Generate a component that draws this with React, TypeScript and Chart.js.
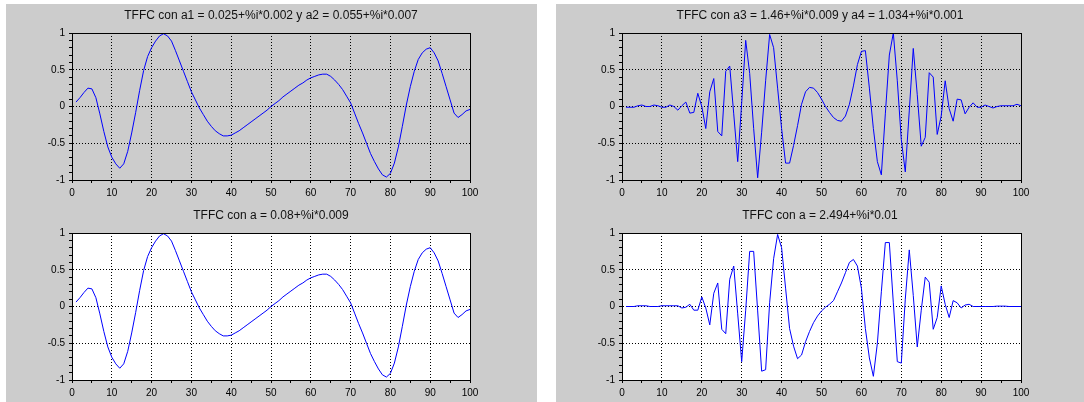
import React, { useEffect, useRef } from 'react';
import { Chart, registerables } from 'chart.js';

Chart.register(...registerables);
Chart.defaults.font.family = '"Liberation Sans", Arial, sans-serif';

// sample index (x axis) 1..100
const samples: number[] = Array.from({ length: 100 }, (_, i) => i + 1);

const titleTopLeft = 'TFFC con a1 = 0.025+%i*0.002 y a2 = 0.055+%i*0.007';
const titleBottomLeft = 'TFFC con a = 0.08+%i*0.009';
const titleTopRight = 'TFFC con a3 = 1.46+%i*0.009 y a4 = 1.034+%i*0.001';
const titleBottomRight = 'TFFC con a = 2.494+%i*0.01';

const xMajorLabels = [0, 10, 20, 30, 40, 50, 60, 70, 80, 90, 100];
const yMajorLabels = [-1, -0.5, 0, 0.5, 1];

const seriesTopLeft: number[] = [
  0.06, 0.12, 0.19, 0.25, 0.24, 0.12, -0.1, -0.34, -0.55, -0.69,
  -0.78, -0.84, -0.78, -0.61, -0.36, -0.08, 0.22, 0.49, 0.68, 0.8,
  0.89, 0.96, 0.99, 0.96, 0.89, 0.76, 0.62, 0.48, 0.34, 0.2,
  0.09, -0.02, -0.11, -0.2, -0.27, -0.33, -0.37, -0.4, -0.4, -0.39,
  -0.36, -0.33, -0.29, -0.25, -0.21, -0.17, -0.13, -0.09, -0.05, 0.0,
  0.04, 0.08, 0.13, 0.17, 0.21, 0.25, 0.29, 0.32, 0.36, 0.39,
  0.41, 0.43, 0.44, 0.44, 0.41, 0.36, 0.3, 0.23, 0.14, 0.05,
  -0.09, -0.23, -0.36, -0.5, -0.64, -0.75, -0.85, -0.93, -0.96, -0.91,
  -0.77, -0.55, -0.27, 0.02, 0.27, 0.48, 0.64, 0.73, 0.78, 0.8,
  0.73, 0.62, 0.45, 0.27, 0.09, -0.09, -0.15, -0.11, -0.06, -0.04,
];

const seriesBottomLeft: number[] = [
  0.06, 0.12, 0.19, 0.25, 0.24, 0.12, -0.1, -0.34, -0.55, -0.69,
  -0.78, -0.84, -0.78, -0.61, -0.36, -0.08, 0.22, 0.49, 0.68, 0.8,
  0.89, 0.96, 0.99, 0.96, 0.89, 0.76, 0.62, 0.48, 0.34, 0.2,
  0.09, -0.02, -0.11, -0.2, -0.27, -0.33, -0.37, -0.4, -0.4, -0.39,
  -0.36, -0.33, -0.29, -0.25, -0.21, -0.17, -0.13, -0.09, -0.05, 0.0,
  0.04, 0.08, 0.13, 0.17, 0.21, 0.25, 0.29, 0.32, 0.36, 0.39,
  0.41, 0.43, 0.44, 0.44, 0.41, 0.36, 0.3, 0.23, 0.14, 0.05,
  -0.09, -0.23, -0.36, -0.5, -0.64, -0.75, -0.85, -0.93, -0.96, -0.91,
  -0.77, -0.55, -0.27, 0.02, 0.27, 0.48, 0.64, 0.73, 0.78, 0.8,
  0.73, 0.62, 0.45, 0.27, 0.09, -0.09, -0.15, -0.11, -0.06, -0.04,
];

const seriesTopRight: number[] = [
  -0.01, -0.01, -0.01, 0.01, 0.02, 0.0, 0.0, 0.02, 0.01, -0.01,
  -0.01, 0.02, 0.0, -0.05, 0.01, 0.06, -0.09, -0.08, 0.18, 0.0,
  -0.3, 0.2, 0.38, -0.34, -0.4, 0.48, 0.55, -0.1, -0.75, 0.05,
  0.9, 0.45, -0.3, -0.97, -0.35, 0.35, 0.98, 0.8, 0.25, -0.3,
  -0.77, -0.77, -0.53, -0.26, 0.03, 0.2, 0.26, 0.25, 0.19, 0.1,
  0.0, -0.08, -0.15, -0.19, -0.2, -0.13, 0.03, 0.28, 0.57, 0.75,
  0.76, 0.25, -0.3, -0.75, -0.93, -0.1, 0.7, 1.0, 0.35, -0.45,
  -0.89, -0.06, 0.79, 0.16, -0.54, -0.42, 0.46, 0.4, -0.38, -0.13,
  0.35, -0.03, -0.2, 0.1, 0.09, -0.1, -0.01, 0.05, -0.01, -0.01,
  0.02, 0.0, -0.02, 0.0, 0.01, 0.01, 0.01, 0.01, 0.03, 0.01,
];

const seriesBottomRight: number[] = [
  0.0, 0.0, 0.0, 0.01, 0.01, 0.01, 0.0, 0.0, 0.0, 0.01,
  0.01, 0.01, 0.01, 0.01, -0.02, -0.01, 0.03, -0.05, -0.05, 0.13,
  -0.02, -0.25, 0.18, 0.32, -0.31, -0.37, 0.37, 0.55, -0.1, -0.75,
  -0.05, 0.75, 0.75, -0.06, -0.88, -0.86, 0.05, 0.65, 0.98, 0.8,
  0.25, -0.3, -0.54, -0.71, -0.66, -0.48, -0.34, -0.22, -0.13, -0.06,
  -0.01, 0.03, 0.08, 0.2, 0.32, 0.46, 0.6, 0.64, 0.55, 0.25,
  -0.3, -0.7, -0.95, -0.5, 0.2, 0.87, 0.87, 0.05, -0.75, -0.77,
  0.1, 0.77, 0.15, -0.55, -0.05, 0.4, 0.33, -0.31, -0.15, 0.28,
  0.03, -0.15, 0.08, 0.05, -0.02, 0.02, 0.03, 0.0, 0.0, 0.0,
  0.0, 0.0, 0.0, 0.005, 0.005, 0.005, 0.0, 0.0, 0.0, 0.0,
];

const PANEL_BG = '#cccccc';

const isXMajor = (v: number) => xMajorLabels.some((m) => Math.abs(m - v) < 1e-6);
const isYMajor = (v: number) => yMajorLabels.some((m) => Math.abs(m - v) < 1e-6);

type PlotProps = {
  values: number[];
  title: string;
  left: number;
  top: number;
  width: number;
  height: number;
  areaBg: string;
  titlePadTop: number;
  xAxisHeight: number;
  yAxisWidth: number;
  rightWidth: number;
};

function Plot(p: PlotProps) {
  const ref = useRef<HTMLCanvasElement>(null);
  useEffect(() => {
    const canvas = ref.current;
    if (!canvas) return;
    const framePlugin = {
      id: 'frame',
      beforeDraw(chart: any) {
        const { ctx, chartArea: a } = chart;
        ctx.save();
        ctx.fillStyle = p.areaBg;
        ctx.fillRect(a.left, a.top, a.right - a.left, a.bottom - a.top);
        ctx.restore();
      },
      afterDraw(chart: any) {
        const { ctx, chartArea: a } = chart;
        const t = Math.round(a.top) + 0.5;
        const r = Math.round(a.right) + 0.5;
        ctx.save();
        ctx.strokeStyle = '#000';
        ctx.lineWidth = 1;
        ctx.beginPath();
        ctx.moveTo(a.left, t);
        ctx.lineTo(r, t);
        ctx.lineTo(r, a.bottom);
        ctx.stroke();
        ctx.restore();
      },
    };
    const chart = new Chart(canvas, {
      type: 'line',
      data: {
        datasets: [
          {
            data: samples.map((x, i) => ({ x, y: p.values[i] })),
            xAxisID: 'x',
            yAxisID: 'y',
            borderColor: '#0000ff',
            borderWidth: 1,
            pointRadius: 0,
            tension: 0,
            fill: false,
          },
        ],
      },
      options: {
        responsive: false,
        animation: false,
        devicePixelRatio: 1,
        layout: { padding: 0 },
        plugins: {
          legend: { display: false },
          tooltip: { enabled: false },
          title: {
            display: true,
            text: p.title,
            color: '#111',
            font: { size: 12, weight: 'normal', lineHeight: 1.25 },
            padding: { top: p.titlePadTop, bottom: 10 },
          },
        },
        scales: {
          x: {
            type: 'linear',
            min: 0,
            max: 100,
            afterFit: (s: any) => {
              s.height = p.xAxisHeight;
            },
            ticks: {
              stepSize: 5,
              autoSkip: false,
              maxRotation: 0,
              minRotation: 0,
              padding: 4,
              color: '#000',
              font: { size: 10 },
              callback: (v: any) => (isXMajor(Number(v)) ? String(Math.round(Number(v))) : ''),
            },
            grid: {
              color: (c: any) => (c.tick && isXMajor(c.tick.value) ? '#000' : 'rgba(0,0,0,0)'),
              tickColor: '#000',
              tickLength: 3,
              lineWidth: 1,
            },
            border: { display: true, color: '#000', width: 1, dash: [1, 2] },
          },
          y: {
            type: 'linear',
            position: 'left',
            min: -1,
            max: 1,
            afterFit: (s: any) => {
              s.width = p.yAxisWidth;
            },
            ticks: {
              stepSize: 0.1,
              autoSkip: false,
              padding: 4,
              color: '#000',
              font: { size: 10 },
              callback: (v: any) => {
                const n = Number(v);
                if (!isYMajor(n)) return '';
                const r = Math.round(n * 2) / 2;
                return String(r === 0 ? 0 : r);
              },
            },
            grid: {
              color: (c: any) => (c.tick && isYMajor(c.tick.value) ? '#000' : 'rgba(0,0,0,0)'),
              tickColor: '#000',
              tickLength: 3,
              lineWidth: 1,
            },
            border: { display: true, color: '#000', width: 1, dash: [1, 2] },
          },
          yr: {
            type: 'linear',
            position: 'right',
            display: true,
            afterFit: (s: any) => {
              s.width = p.rightWidth;
            },
            ticks: { display: false },
            grid: { display: false, drawTicks: false },
            border: { display: false },
          },
        },
      } as any,
      plugins: [framePlugin],
    });
    return () => chart.destroy();
  }, []);
  return (
    <canvas
      ref={ref}
      width={p.width}
      height={p.height}
      style={{ position: 'absolute', left: p.left, top: p.top, display: 'block' }}
    />
  );
}

export default function App() {
  return (
    <div
      style={{
        position: 'absolute',
        left: 0,
        top: 0,
        width: 1084,
        height: 402,
        overflow: 'hidden',
        background: '#ffffff',
      }}
    >
      <div style={{ position: 'absolute', left: 6, top: 4, width: 531, height: 398, background: PANEL_BG }} />
      <div style={{ position: 'absolute', left: 556, top: 4, width: 528, height: 398, background: PANEL_BG }} />
      <Plot
        values={seriesTopLeft}
        title={titleTopLeft}
        left={6}
        top={4}
        width={530}
        height={196}
        areaBg={PANEL_BG}
        titlePadTop={4}
        xAxisHeight={20}
        yAxisWidth={66}
        rightWidth={66}
      />
      <Plot
        values={seriesBottomLeft}
        title={titleBottomLeft}
        left={6}
        top={200}
        width={530}
        height={202}
        areaBg="#ffffff"
        titlePadTop={8}
        xAxisHeight={22}
        yAxisWidth={66}
        rightWidth={66}
      />
      <Plot
        values={seriesTopRight}
        title={titleTopRight}
        left={556}
        top={4}
        width={528}
        height={196}
        areaBg={PANEL_BG}
        titlePadTop={4}
        xAxisHeight={20}
        yAxisWidth={66}
        rightWidth={63}
      />
      <Plot
        values={seriesBottomRight}
        title={titleBottomRight}
        left={556}
        top={200}
        width={528}
        height={202}
        areaBg="#ffffff"
        titlePadTop={8}
        xAxisHeight={22}
        yAxisWidth={66}
        rightWidth={63}
      />
    </div>
  );
}
